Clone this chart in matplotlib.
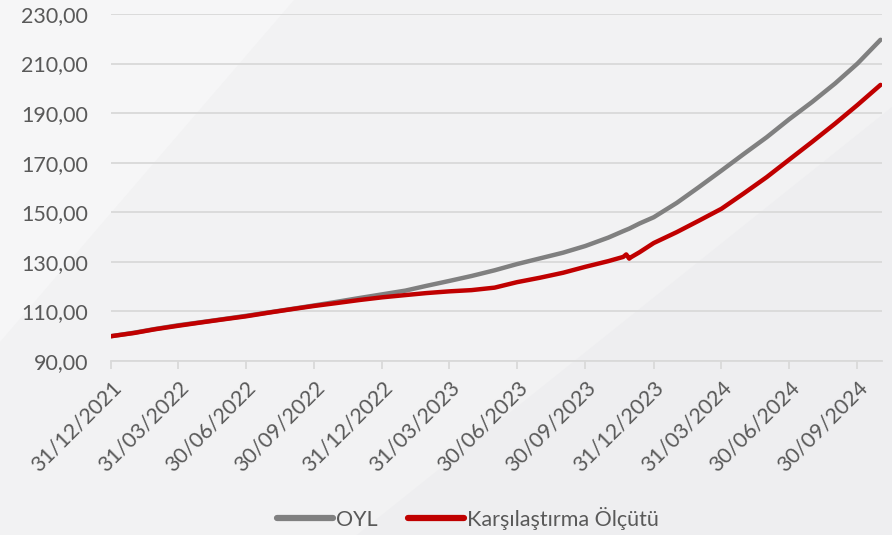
import matplotlib
matplotlib.use("Agg")
import matplotlib.pyplot as plt
import matplotlib.transforms as mtransforms
from matplotlib.patches import Polygon
from matplotlib.ticker import FuncFormatter
import pandas as pd

# ---- data ----
dates = ["2021-12-31", "2022-01-31", "2022-02-28", "2022-03-31", "2022-04-30", "2022-05-31",
         "2022-06-30", "2022-07-31", "2022-08-31", "2022-09-30", "2022-10-31", "2022-11-30",
         "2022-12-31", "2023-01-31", "2023-02-28", "2023-03-31", "2023-04-30", "2023-05-31",
         "2023-06-30", "2023-07-31", "2023-08-31", "2023-09-30", "2023-10-31", "2023-11-20",
         "2023-11-24", "2023-11-28", "2023-11-30", "2023-12-12", "2023-12-31", "2024-01-31",
         "2024-02-29", "2024-03-31", "2024-04-30", "2024-05-31", "2024-06-30", "2024-07-31",
         "2024-08-31", "2024-09-30", "2024-10-31"]
oyl = [100.0, 101.4, 102.9, 104.4, 105.6, 106.9,
       108.2, 109.6, 111.0, 112.4, 113.9, 115.4,
       116.9, 118.4, 120.3, 122.3, 124.3, 126.6,
       129.1, 131.4, 133.7, 136.4, 139.8, 142.4,
       142.9, 143.4, 143.7, 145.5, 148.0, 153.8,
       160.0, 166.8, 173.5, 180.3, 187.5, 194.5,
       202.0, 210.0, 219.6]
benchmark = [100.0, 101.3, 102.8, 104.2, 105.5, 106.8,
             108.0, 109.5, 110.9, 112.2, 113.4, 114.6,
             115.7, 116.6, 117.4, 118.1, 118.6, 119.6,
             121.8, 123.6, 125.6, 128.0, 130.3, 132.0,
             133.0, 131.3, 131.8, 133.9, 137.6, 142.0,
             146.5, 151.4, 157.6, 164.2, 171.2, 178.4,
             185.8, 193.3, 201.4]
x_ticks = ["2021-12-31", "2022-03-31", "2022-06-30", "2022-09-30", "2022-12-31", "2023-03-31",
           "2023-06-30", "2023-09-30", "2023-12-31", "2024-03-31", "2024-06-30", "2024-09-30"]
y_ticks = [90, 110, 130, 150, 170, 190, 210, 230]
series_names = ["OYL", "Karşılaştırma Ölçütü"]

plt.rcParams['font.family'] = ['Lato', 'DejaVu Sans']
FS = 15.5
TXT = "#595959"

fig = plt.figure(figsize=(8.92, 5.35), dpi=100)
fig.patch.set_facecolor("#f2f2f3")

# subtle background swooshes
bg = fig.add_axes([0, 0, 1, 1], zorder=-10)
bg.set_xlim(0, 1); bg.set_ylim(0, 1); bg.axis("off")
bg.add_patch(Polygon([[0, 0.36], [0, 1], [0.33, 1]], closed=True,
                     facecolor="#f6f6f7", edgecolor="none"))
bg.add_patch(Polygon([[0.40, 0], [1, 0.80], [1, 0]], closed=True,
                     facecolor="#eeeef0", edgecolor="none"))

ax = fig.add_axes([111/892, 1-361/535, (882-111)/892, (361-14)/535])
ax.set_facecolor("none")

d = pd.to_datetime(dates)
ax.plot(d, oyl, color="#808080", lw=3.2, solid_capstyle="round", solid_joinstyle="round",
        label=series_names[0], zorder=3)
ax.plot(d, benchmark, color="#c00000", lw=3.2, solid_capstyle="round", solid_joinstyle="round",
        label=series_names[1], zorder=4)

ax.set_ylim(90, 230)
ax.set_yticks(y_ticks)
ax.yaxis.set_major_formatter(FuncFormatter(lambda v, p: f"{v:.2f}".replace(".", ",")))
ax.set_xlim(pd.Timestamp("2021-12-31"), pd.Timestamp("2024-11-02"))
xt = pd.to_datetime(x_ticks)
ax.set_xticks(xt)
ax.set_xticklabels([t.strftime("%d/%m/%Y") for t in xt], rotation=45, ha="right",
                   rotation_mode="anchor")
offset = mtransforms.ScaledTranslation(5/100, 0, fig.dpi_scale_trans)
for lab in ax.get_xticklabels():
    lab.set_transform(lab.get_transform() + offset)

ax.grid(axis="y", color="#d9d9d9", lw=1.3)
ax.set_axisbelow(True)
for s in ["top", "right", "left"]:
    ax.spines[s].set_visible(False)
ax.spines["bottom"].set_color("#d9d9d9")
ax.spines["bottom"].set_linewidth(1.3)
ax.tick_params(axis="y", length=0, pad=16.5, labelsize=FS, labelcolor=TXT)
ax.tick_params(axis="x", length=6, width=1.3, color="#d9d9d9", direction="out",
               labelsize=FS, labelcolor=TXT, pad=6)

leg = fig.legend(loc="center", bbox_to_anchor=(468/892, 1-518/535), ncol=2, frameon=False,
                 fontsize=FS, handlelength=2.6, handletextpad=0.15, columnspacing=1.4)
for t in leg.get_texts():
    t.set_color(TXT)
for l in leg.get_lines():
    l.set_linewidth(4.5)

fig.savefig("out.png", dpi=100, facecolor=fig.get_facecolor())
